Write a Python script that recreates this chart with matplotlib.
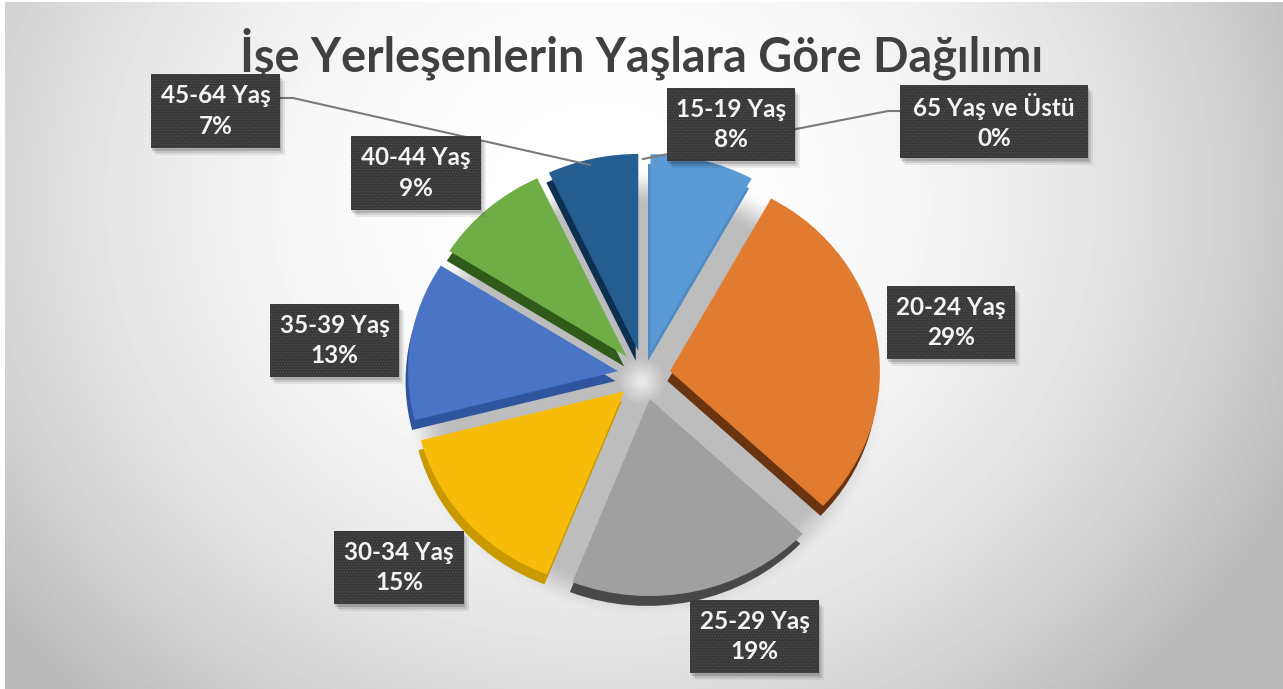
import numpy as np
import matplotlib
matplotlib.use("Agg")
import matplotlib.pyplot as plt
from matplotlib.patches import Rectangle

categories = ["15-19 Yaş", "20-24 Yaş", "25-29 Yaş", "30-34 Yaş",
              "35-39 Yaş", "40-44 Yaş", "45-64 Yaş", "65 Yaş ve Üstü"]
shares = [8, 29, 19, 15, 13, 9, 7, 0]
title = "İşe Yerleşenlerin Yaşlara Göre Dağılımı"

top_colors = ["#5B9BD5", "#E07B30", "#A0A0A0", "#F7BC0A",
              "#4A75C6", "#70AD47", "#255E91", "#636363"]
side_colors = ["#4F8CC4", "#6B3410", "#484848", "#C89A00",
               "#2F559E", "#2F5A1A", "#0F2F50", "#333333"]

# label box corners in pixels: left, top, right, bottom
label_boxes = [(667, 88, 795, 161), (887, 286, 1015, 359), (690, 600, 819, 673),
               (334, 531, 464, 604), (270, 304, 399, 377), (351, 136, 481, 210),
               (151, 74, 280, 148), (900, 85, 1088, 158)]

W, H = 1283, 689
CX, CY = 644, 375
RX, RY = 210, 197
FONT = "Lato"


def background(fig):
    ax = fig.add_axes([0, 0, 1, 1])
    ax.set_axis_off()
    yy, xx = np.mgrid[0:H, 0:W]
    d = np.sqrt(((xx - 600) / 720) ** 2 + ((yy - 200) / 640) ** 2)
    shade = 1.0 - 0.24 * np.clip(d, 0, 1.05) ** 2.2
    # soft grey shadow behind the pie, sitting a little low
    r = np.sqrt(((xx - CX) / RX) ** 2 + ((yy - CY - 18) / RY) ** 2)
    t = np.clip((1.15 - r) / 0.20, 0, 1)
    a = t ** 2 * (3 - 2 * t)
    shade = shade * (1 - a) + 0.74 * a
    # pale spot in the middle where the slices meet
    r0 = np.sqrt((xx - 641) ** 2 + (yy - 381) ** 2)
    spot = np.clip((24 - r0) / 20, 0, 1)
    shade = shade * (1 - spot) + 0.90 * spot
    ax.imshow(shade, cmap="gray", vmin=0, vmax=1, aspect="auto",
              extent=(0, W, H, 0), interpolation="bilinear")
    ax.set_xlim(0, W)
    ax.set_ylim(H, 0)
    # white strips left and on top of the picture
    ax.add_patch(Rectangle((0, 0), 5, H, fc="white", ec="none", zorder=3))
    ax.add_patch(Rectangle((0, 0), W, 2, fc="white", ec="none", zorder=3))


def draw_pie(fig):
    ax = fig.add_axes([0, 0, 1, 1])
    ax.patch.set_alpha(0)
    explode = [0.125] * len(shares)
    side, _ = ax.pie(shares, colors=side_colors, explode=explode, startangle=90,
                     counterclock=False, center=(-0.012, -0.05))
    top, _ = ax.pie(shares, colors=top_colors, explode=explode, startangle=90,
                    counterclock=False)
    for w in side:
        w.set_zorder(4)
    for w in top:
        w.set_zorder(5)
    ax.set_aspect("auto")
    ax.set_xlim(-CX / RX, (W - CX) / RX)
    ax.set_ylim(-(H - CY) / RY, CY / RY)


def draw_labels(fig):
    ax = fig.add_axes([0, 0, 1, 1])
    ax.set_axis_off()
    ax.set_xlim(0, W)
    ax.set_ylim(H, 0)
    # leader lines run under the boxes
    ax.plot([280, 293, 590], [98, 98, 165], color="#7A7A7A", lw=1.5, zorder=2)
    ax.plot([900, 888, 643], [111, 111, 159], color="#7A7A7A", lw=1.5, zorder=2)
    plt.rcParams["hatch.linewidth"] = 0.6
    for name, val, (x0, y0, x1, y1) in zip(categories, shares, label_boxes):
        for off, a in [(7, 0.07), (5, 0.10), (3, 0.15)]:
            ax.add_patch(Rectangle((x0 + off - 2, y0 + off), x1 - x0, y1 - y0,
                                   fc="black", ec="none", alpha=a, zorder=3))
        ax.add_patch(Rectangle((x0, y0), x1 - x0, y1 - y0, fc="#383838",
                               ec="#505050", hatch="......", lw=0, zorder=4))
        ax.text((x0 + x1) / 2, (y0 + y1) / 2, f"{name}\n{val}%", color="#F4F4F4",
                ha="center", va="center", fontsize=17.5, fontweight="bold",
                family=FONT, linespacing=1.4, zorder=5)
    ax.text(642, 54, title, color="#404040", ha="center", va="center",
            fontsize=33.7, fontweight="bold", family=FONT, zorder=5)


def main():
    fig = plt.figure(figsize=(W / 100, H / 100), dpi=100, facecolor="white")
    background(fig)
    draw_pie(fig)
    draw_labels(fig)
    fig.savefig("out.png", dpi=100)


if __name__ == "__main__":
    main()
